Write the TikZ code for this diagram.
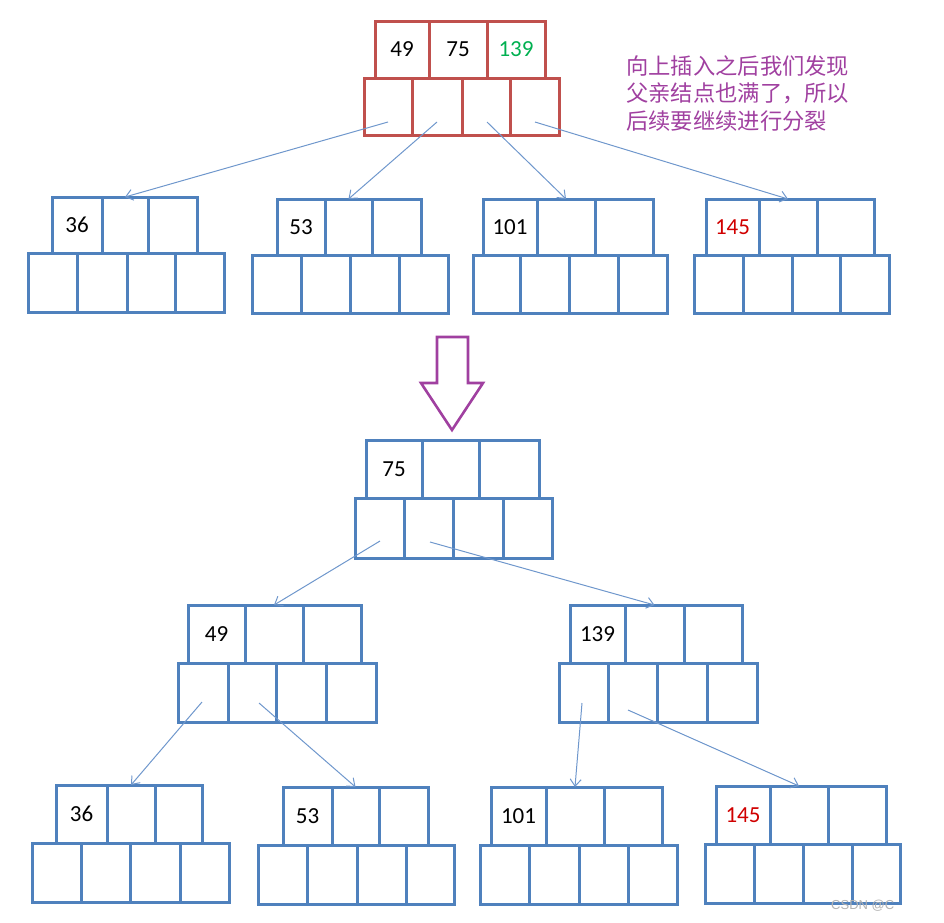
\documentclass[tikz,border=0pt]{standalone}
\usepackage{fontspec}
\setmainfont{Carlito}
\newfontfamily\cjk{Noto Sans CJK SC}
\newfontfamily\wmfont{Liberation Sans}
\usetikzlibrary{arrows.meta}
\definecolor{rb}{HTML}{C0504D}
\definecolor{bb}{HTML}{4F81BD}
\definecolor{lb}{HTML}{6F97CC}
\definecolor{grn}{HTML}{00B050}
\definecolor{redt}{HTML}{D00000}
\definecolor{pur}{HTML}{A040A0}
\newcommand\cel[7]{\pgfmathsetmacro\cw{#4-#2}\pgfmathsetmacro\ch{#5-#3}%
  \node[#6,minimum width=\cw pt,minimum height=\ch pt] (#1) at ({(#2+#4)/2},{(#3+#5)/2}) {#7};}
\begin{document}
\begin{tikzpicture}[x=1pt,y=-1pt,
  cellR/.style={draw=rb,line width=3pt,inner sep=0pt,outer sep=0pt,font=\fontsize{23}{27}\selectfont},
  cellB/.style={draw=bb,line width=3pt,inner sep=0pt,outer sep=0pt,font=\fontsize{23}{27}\selectfont},
  link/.style={draw=lb,line width=1pt,-{Straight Barb[length=7pt,width=11pt]}},
  bigarrow/.style={draw=pur,line width=2.6pt,line join=miter},
  note/.style={text=pur,font=\cjk\fontsize{22.3}{27.5}\selectfont,align=left,inner sep=0pt,anchor=north west},
  wm/.style={text=gray!60,font=\wmfont\fontsize{13}{14}\selectfont,inner sep=0pt,anchor=west}]
\useasboundingbox (0,0) rectangle (944,922);
% ---------- top root (red) ----------
\cel{tc1}{364}{78}{412}{135}{cellR}{}
\cel{tc2}{412}{78}{462}{135}{cellR}{}
\cel{tc3}{462}{78}{510}{135}{cellR}{}
\cel{tc4}{510}{78}{559}{135}{cellR}{}
\cel{tk1}{375}{21}{429}{78}{cellR}{49}
\cel{tk2}{429}{21}{487}{78}{cellR}{75}
\cel{tk3}{487}{21}{545}{78}{cellR}{\textcolor{grn}{139}}
% ---------- level 1 ----------
\cel{ac1}{28}{253}{77}{312}{cellB}{}
\cel{ac2}{77}{253}{127}{312}{cellB}{}
\cel{ac3}{127}{253}{175}{312}{cellB}{}
\cel{ac4}{175}{253}{224}{312}{cellB}{}
\cel{ak1}{52}{197}{102}{253}{cellB}{36}
\cel{ak2}{102}{197}{148}{253}{cellB}{}
\cel{ak3}{148}{197}{197}{253}{cellB}{}
\cel{bc1}{252}{255}{301}{313}{cellB}{}
\cel{bc2}{301}{255}{350}{313}{cellB}{}
\cel{bc3}{350}{255}{399}{313}{cellB}{}
\cel{bc4}{399}{255}{448}{313}{cellB}{}
\cel{bk1}{277}{199}{325}{255}{cellB}{53}
\cel{bk2}{325}{199}{372}{255}{cellB}{}
\cel{bk3}{372}{199}{421}{255}{cellB}{}
\cel{cc1}{473}{255}{520}{313}{cellB}{}
\cel{cc2}{520}{255}{569}{313}{cellB}{}
\cel{cc3}{569}{255}{618}{313}{cellB}{}
\cel{cc4}{618}{255}{667}{313}{cellB}{}
\cel{ck1}{483}{199}{537}{255}{cellB}{101}
\cel{ck2}{537}{199}{595}{255}{cellB}{}
\cel{ck3}{595}{199}{653}{255}{cellB}{}
\cel{dc1}{694}{255}{743}{313}{cellB}{}
\cel{dc2}{743}{255}{792}{313}{cellB}{}
\cel{dc3}{792}{255}{840}{313}{cellB}{}
\cel{dc4}{840}{255}{889}{313}{cellB}{}
\cel{dk1}{706}{199}{759}{255}{cellB}{\textcolor{redt}{145}}
\cel{dk2}{759}{199}{817}{255}{cellB}{}
\cel{dk3}{817}{199}{874}{255}{cellB}{}
% ---------- bottom root ----------
\cel{rc1}{355}{498}{404}{558}{cellB}{}
\cel{rc2}{404}{498}{453}{558}{cellB}{}
\cel{rc3}{453}{498}{503}{558}{cellB}{}
\cel{rc4}{503}{498}{552}{558}{cellB}{}
\cel{rk1}{366}{440}{422}{498}{cellB}{75}
\cel{rk2}{422}{440}{479}{498}{cellB}{}
\cel{rk3}{479}{440}{539}{498}{cellB}{}
% ---------- level 2 ----------
\cel{ec1}{178}{663}{228}{722}{cellB}{}
\cel{ec2}{228}{663}{276}{722}{cellB}{}
\cel{ec3}{276}{663}{326}{722}{cellB}{}
\cel{ec4}{326}{663}{376}{722}{cellB}{}
\cel{ek1}{188}{605}{245}{663}{cellB}{49}
\cel{ek2}{245}{605}{303}{663}{cellB}{}
\cel{ek3}{303}{605}{361}{663}{cellB}{}
\cel{fc1}{559}{663}{608}{722}{cellB}{}
\cel{fc2}{608}{663}{657}{722}{cellB}{}
\cel{fc3}{657}{663}{707}{722}{cellB}{}
\cel{fc4}{707}{663}{757}{722}{cellB}{}
\cel{fk1}{570}{605}{625}{663}{cellB}{139}
\cel{fk2}{625}{605}{684}{663}{cellB}{}
\cel{fk3}{684}{605}{742}{663}{cellB}{}
% ---------- level 3 ----------
\cel{gc1}{32}{843}{81}{902}{cellB}{}
\cel{gc2}{81}{843}{130}{902}{cellB}{}
\cel{gc3}{130}{843}{180}{902}{cellB}{}
\cel{gc4}{180}{843}{229}{902}{cellB}{}
\cel{gk1}{56}{785}{107}{843}{cellB}{36}
\cel{gk2}{107}{785}{155}{843}{cellB}{}
\cel{gk3}{155}{785}{202}{843}{cellB}{}
\cel{hc1}{258}{845}{307}{904}{cellB}{}
\cel{hc2}{307}{845}{357}{904}{cellB}{}
\cel{hc3}{357}{845}{406}{904}{cellB}{}
\cel{hc4}{406}{845}{454}{904}{cellB}{}
\cel{hk1}{283}{787}{332}{845}{cellB}{53}
\cel{hk2}{332}{787}{379}{845}{cellB}{}
\cel{hk3}{379}{787}{428}{845}{cellB}{}
\cel{ic1}{480}{845}{529}{904}{cellB}{}
\cel{ic2}{529}{845}{579}{904}{cellB}{}
\cel{ic3}{579}{845}{628}{904}{cellB}{}
\cel{ic4}{628}{845}{677}{904}{cellB}{}
\cel{ik1}{491}{787}{546}{845}{cellB}{101}
\cel{ik2}{546}{787}{604}{845}{cellB}{}
\cel{ik3}{604}{787}{662}{845}{cellB}{}
\cel{jc1}{705}{844}{754}{903}{cellB}{}
\cel{jc2}{754}{844}{803}{903}{cellB}{}
\cel{jc3}{803}{844}{852}{903}{cellB}{}
\cel{jc4}{852}{844}{900}{903}{cellB}{}
\cel{jk1}{716}{786}{770}{844}{cellB}{\textcolor{redt}{145}}
\cel{jk2}{770}{786}{828}{844}{cellB}{}
\cel{jk3}{828}{786}{886}{844}{cellB}{}
% ---------- connector start points ----------
\coordinate (s1) at (388,122);
\coordinate (s2) at (437,122);
\coordinate (s3) at (487,122);
\coordinate (s4) at (535,122);
\coordinate (s5) at (380,541);
\coordinate (s6) at (430,542);
\coordinate (s7) at (202,702);
\coordinate (s8) at (259,703);
\coordinate (s9) at (582,703);
\coordinate (s10) at (628,710);
% ---------- connectors ----------
\draw[link] (s1) -- (ak2.north);
\draw[link] (s2) -- (bk2.north);
\draw[link] (s3) -- (ck2.north);
\draw[link] (s4) -- (dk2.north);
\draw[link] (s5) -- (ek2.north);
\draw[link] (s6) -- (fk2.north);
\draw[link] (s7) -- (gk2.north);
\draw[link] (s8) -- (hk2.north);
\draw[link] (s9) -- (ik2.north);
\draw[link] (s10) -- (jk2.north);
% ---------- big arrow ----------
\draw[bigarrow] (437,337) -- (468,337) -- (468,383) -- (483,383) -- (452,430) -- (421,383) -- (437,383) -- cycle;
% ---------- note ----------
\node[note] (txt) at (626,55) {向上插入之后我们发现\\父亲结点也满了，所以\\后续要继续进行分裂};
\node[wm] (wmk) at (831,906) {CSDN @C};
\end{tikzpicture}
\end{document}
